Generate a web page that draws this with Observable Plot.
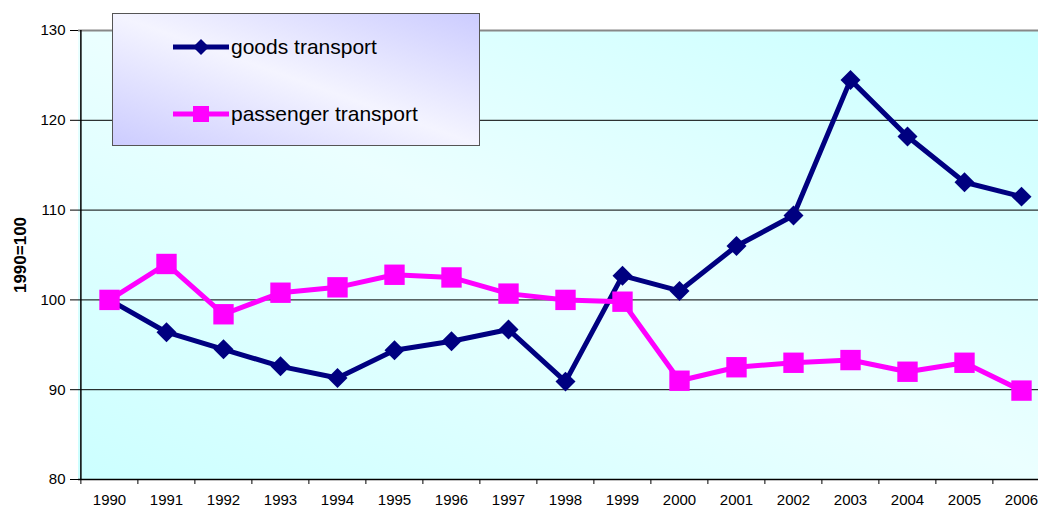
<!DOCTYPE html>
<html>
<head>
<meta charset="utf-8">
<script src="https://cdn.jsdelivr.net/npm/d3@7"></script>
<script src="https://cdn.jsdelivr.net/npm/@observablehq/plot@0.6"></script>
<style>
  html, body { margin: 0; padding: 0; background: #fff; }
  #wrap { position: relative; width: 1038px; height: 508px; overflow: hidden; font-family: "Liberation Sans", Arial, sans-serif; }
  #legend {
    position: absolute; left: 112px; top: 13px; width: 366px; height: 131px;
    border: 1px solid #555;
    background: linear-gradient(to top right, #ccccff 0%, #f4f4ff 50%, #ccccff 100%);
  }
  .lg-item { position: absolute; left: 59px; display: flex; align-items: center; font-size: 21px; color: #000; white-space: nowrap; }
  .lg-item svg { display: block; margin-right: 1px; }
  #wrap svg g[aria-label="y-axis label"] text { font-weight: bold !important; font-size: 17px !important; }
  #wrap svg g[aria-label*="tick label"] text { font-size: 15px !important; }
</style>
</head>
<body>
<div id="wrap"></div>
<script>
const years = ["1990","1991","1992","1993","1994","1995","1996","1997","1998","1999","2000","2001","2002","2003","2004","2005","2006"];
const goods = [100, 96.4, 94.5, 92.6, 91.3, 94.4, 95.4, 96.7, 90.9, 102.7, 101.0, 106.0, 109.4, 124.5, 118.2, 113.1, 111.5];
const passenger = [100, 104.0, 98.4, 100.8, 101.4, 102.8, 102.5, 100.7, 100.0, 99.8, 91.0, 92.5, 93.0, 93.3, 92.0, 93.0, 89.9];
const yTicks = [80, 90, 100, 110, 120, 130];
const gridTicks = [90, 100, 110, 120];
const seriesNames = ["goods transport", "passenger transport"];
const colors = ["#000080", "#ff00ff"];

const goodsData = years.map((y, i) => ({year: y, value: goods[i]}));
const passData = years.map((y, i) => ({year: y, value: passenger[i]}));

// background gradient of the plot area
function background(index, scales, values, dims) {
  const g = d3.create("svg:g");
  const defs = g.append("defs");
  const lg = defs.append("linearGradient").attr("id", "bggrad")
    .attr("x1", "0").attr("y1", "1").attr("x2", "1").attr("y2", "0");
  lg.append("stop").attr("offset", "0%").attr("stop-color", "#ccffff");
  lg.append("stop").attr("offset", "50%").attr("stop-color", "#ebffff");
  lg.append("stop").attr("offset", "100%").attr("stop-color", "#c8ffff");
  g.append("rect")
    .attr("x", dims.marginLeft).attr("y", dims.marginTop)
    .attr("width", dims.width - dims.marginRight - dims.marginLeft)
    .attr("height", dims.height - dims.marginTop - dims.marginBottom)
    .attr("fill", "url(#bggrad)");
  return g.node();
}

const step = (1051 - 78) / years.length;

const chart = Plot.plot({
  width: 1038,
  height: 508,
  marginLeft: 78,
  marginRight: -13,
  marginTop: 30,
  marginBottom: 29,
  style: {fontFamily: "'Liberation Sans', Arial, sans-serif", fontSize: "15px", background: "transparent", color: "#000"},
  x: {type: "point", domain: years, padding: 0.5, label: null},
  y: {domain: [80, 130], label: null},
  marks: [
    background,
    Plot.ruleY(gridTicks, {stroke: "#000", strokeWidth: 1}),
    Plot.ruleY([130], {stroke: "#888", strokeWidth: 2}),
    // x tick marks between categories
    Plot.axisX({ticks: years, tickSize: 5, tickFormat: () => "", dx: -step / 2, stroke: "#000", label: null}),
    Plot.axisX({ticks: years, tickSize: 0, tickPadding: 15, label: null}),
    Plot.axisY({ticks: yTicks, tickSize: 8, tickPadding: 5, label: null}),
    Plot.axisY({ticks: [], label: "1990=100", labelAnchor: "center", labelArrow: "none", labelOffset: 65}),
    Plot.ruleX([years[0]], {dx: -step / 2, stroke: "#000", strokeWidth: 1.5}),
    Plot.ruleY([80], {stroke: "#000", strokeWidth: 1.5}),
    Plot.line(goodsData, {x: "year", y: "value", stroke: colors[0], strokeWidth: 5}),
    Plot.dot(goodsData, {x: "year", y: "value", symbol: "diamond2", r: 9, fill: colors[0], stroke: "none"}),
    Plot.line(passData, {x: "year", y: "value", stroke: colors[1], strokeWidth: 5}),
    Plot.dot(passData, {x: "year", y: "value", symbol: "square", r: 11.5, fill: colors[1], stroke: "none"})
  ]
});

const wrap = document.getElementById("wrap");
wrap.appendChild(chart);

// legend
const legend = document.createElement("div");
legend.id = "legend";
const tops = [21, 88];
seriesNames.forEach((name, i) => {
  const item = document.createElement("div");
  item.className = "lg-item";
  item.style.top = tops[i] + "px";
  const ns = "http://www.w3.org/2000/svg";
  const s = document.createElementNS(ns, "svg");
  s.setAttribute("width", "58"); s.setAttribute("height", "24");
  const l = document.createElementNS(ns, "line");
  l.setAttribute("x1", "1"); l.setAttribute("x2", "57"); l.setAttribute("y1", "12"); l.setAttribute("y2", "12");
  l.setAttribute("stroke", colors[i]); l.setAttribute("stroke-width", "5");
  s.appendChild(l);
  if (i === 0) {
    const p = document.createElementNS(ns, "path");
    p.setAttribute("d", "M29,4 L37,12 L29,20 L21,12 Z");
    p.setAttribute("fill", colors[i]);
    s.appendChild(p);
  } else {
    const r = document.createElementNS(ns, "rect");
    r.setAttribute("x", "21"); r.setAttribute("y", "4"); r.setAttribute("width", "16"); r.setAttribute("height", "16");
    r.setAttribute("fill", colors[i]);
    s.appendChild(r);
  }
  item.appendChild(s);
  const t = document.createElement("span");
  t.textContent = name;
  item.appendChild(t);
  legend.appendChild(item);
});
wrap.appendChild(legend);
</script>
</body>
</html>
